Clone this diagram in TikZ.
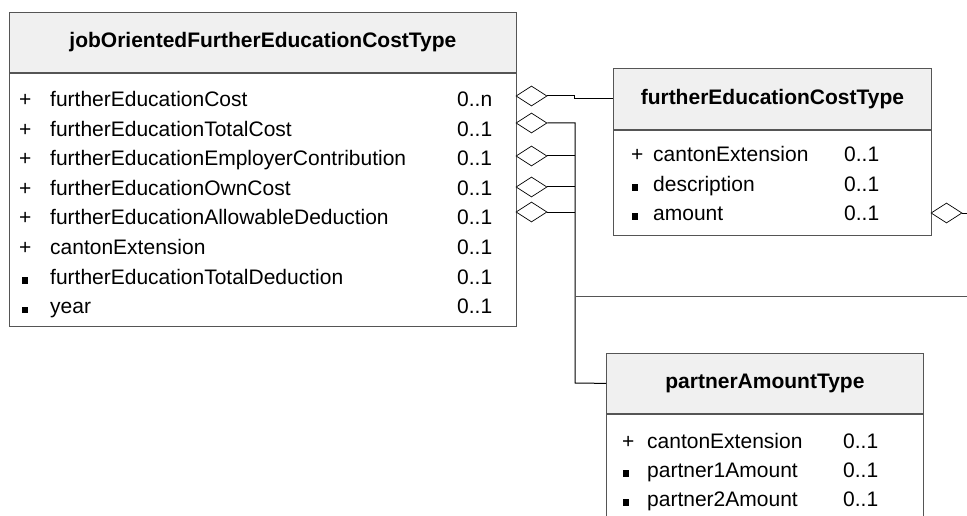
\documentclass[tikz,border=0pt]{standalone}
\usepackage{fontspec}
\setmainfont{Liberation Sans}
\usetikzlibrary{shapes.geometric}
\definecolor{headgray}{RGB}{240,240,240}
\definecolor{boxgray}{RGB}{85,85,85}
\newcommand{\sq}{\raisebox{0.5pt}{\rule{6pt}{6.5pt}}}

\begin{document}
\begin{tikzpicture}[x=1pt,y=-1pt,
    every node/.style={font=\fontsize{21}{25}\selectfont},
    head/.style={draw=boxgray,fill=headgray,line width=0.8pt,anchor=north west,inner sep=0pt,font=\fontsize{21}{25}\selectfont\bfseries},
    body/.style={draw=boxgray,fill=white,line width=0.8pt,anchor=north west,inner sep=0pt},
    attr/.style={anchor=base west,inner sep=0pt},
    agg/.style={diamond,draw=black,fill=white,line width=0.7pt,aspect=1.55,minimum width=31pt,minimum height=20pt,inner sep=0pt},
    link/.style={draw=black,line width=1pt}]
\useasboundingbox (0,0) rectangle (967,516);
\clip (0,0) rectangle (967,516);
            % Classes
\node[head,minimum width=507pt,minimum height=60pt] (jobHead) at (9,12) {jobOrientedFurtherEducationCostType};
\node[body,minimum width=507pt,minimum height=253pt] (jobBody) at (jobHead.south west) {};
\node[head,minimum width=318pt,minimum height=61pt] (costHead) at (613,68) {furtherEducationCostType};
\node[body,minimum width=318pt,minimum height=105pt] (costBody) at (costHead.south west) {};
\node[head,minimum width=317pt,minimum height=60pt] (partnerHead) at (606,353) {partnerAmountType};
\node[body,minimum width=317pt,minimum height=120pt] (partnerBody) at (partnerHead.south west) {};
%Attributes jobOriented
\node[attr] (jobCost)      at (19,107)   {\makebox[31pt][l]{+}\makebox[407pt][l]{furtherEducationCost}0..n};
\node[attr] (jobTotal)     at (19,136.5) {\makebox[31pt][l]{+}\makebox[407pt][l]{furtherEducationTotalCost}0..1};
\node[attr] (jobEmployer)  at (19,166)   {\makebox[31pt][l]{+}\makebox[407pt][l]{furtherEducationEmployerContribution}0..1};
\node[attr] (jobOwn)       at (19,195.5) {\makebox[31pt][l]{+}\makebox[407pt][l]{furtherEducationOwnCost}0..1};
\node[attr] (jobAllowable) at (19,225)   {\makebox[31pt][l]{+}\makebox[407pt][l]{furtherEducationAllowableDeduction}0..1};
\node[attr] (jobCanton)    at (19,254.5) {\makebox[31pt][l]{+}\makebox[407pt][l]{cantonExtension}0..1};
\node[attr] (jobDeduction) at (19,284)   {\makebox[31pt][l]{\hspace{3pt}\sq}\makebox[407pt][l]{furtherEducationTotalDeduction}0..1};
\node[attr] (jobYear)      at (19,313.5) {\makebox[31pt][l]{\hspace{3pt}\sq}\makebox[407pt][l]{year}0..1};
%Attributes furtherEducationCost
\node[attr] (costCanton)   at (631,162) {\makebox[22pt][l]{+}\makebox[191pt][l]{cantonExtension}0..1};
\node[attr] (costDescr)    at (631,191) {\makebox[22pt][l]{\hspace{1pt}\sq}\makebox[191pt][l]{description}0..1};
\node[attr] (costAmount)   at (631,220) {\makebox[22pt][l]{\hspace{1pt}\sq}\makebox[191pt][l]{amount}0..1};
%Attributes partnerAmount
\node[attr] (partnerCanton) at (622,448) {\makebox[25pt][l]{+}\makebox[196pt][l]{cantonExtension}0..1};
\node[attr] (partnerOne)    at (622,477) {\makebox[25pt][l]{\hspace{1pt}\sq}\makebox[196pt][l]{partner1Amount}0..1};
\node[attr] (partnerTwo)    at (622,506) {\makebox[25pt][l]{\hspace{1pt}\sq}\makebox[196pt][l]{partner2Amount}0..1};
%Aggregations
\node[agg] (dCost)      at (531.5,96)  {};
\node[agg] (dTotal)     at (531.5,123) {};
\node[agg] (dEmployer)  at (531.5,156) {};
\node[agg] (dOwn)       at (531.5,187) {};
\node[agg] (dAllowable) at (531.5,212) {};
\node[agg] (dAmount)    at (946.5,213) {};
\coordinate (busTop) at (575,123);
\coordinate (busBot) at (575,383);
\coordinate (farRight) at (967,296);
%Connections
\draw[link] (dCost.east) -- ++(27,0) |- (costHead.west);
\draw[link] (dTotal.east) -- (busTop) -- (busBot) -- (partnerHead.west);
\draw[link] (dEmployer.east) -- (dEmployer.east -| busTop);
\draw[link] (dOwn.east) -- (dOwn.east -| busTop);
\draw[link] (dAllowable.east) -- (dAllowable.east -| busTop);
\draw[link,draw=boxgray] (busTop |- farRight) -- (farRight);
\draw[link] (dAmount.east) -- (dAmount.east -| farRight);
\end{tikzpicture}
\end{document}
